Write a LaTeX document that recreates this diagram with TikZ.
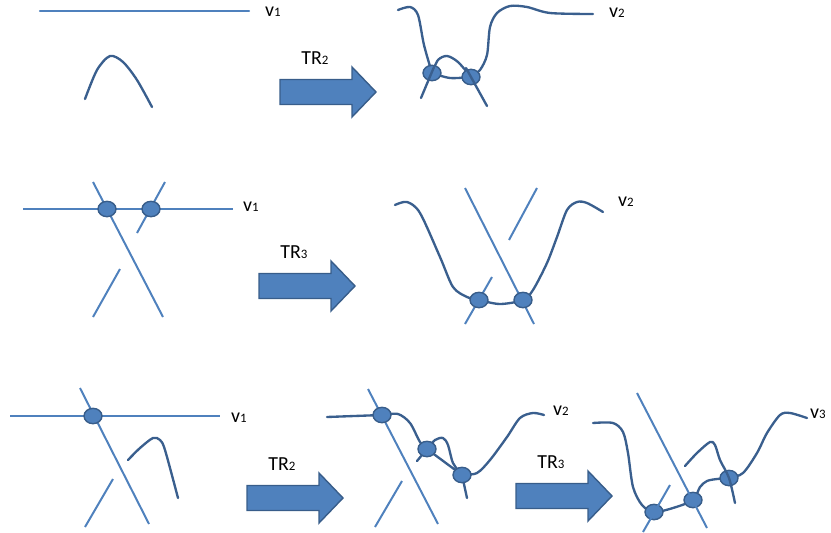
\documentclass[tikz,border=0pt]{standalone}
\usepackage{fontspec}
\setmainfont{Carlito}
\usepackage{tikz}
\usetikzlibrary{shapes,backgrounds}
\definecolor{lineblue}{RGB}{79,129,189}
\definecolor{curveblue}{RGB}{58,95,142}
\definecolor{dotline}{RGB}{56,93,138}
\newcommand{\idx}[1]{{\fontsize{11}{11}\selectfont #1}}
\tikzstyle{strand}    = [draw=lineblue, line width=1.7pt]
\tikzstyle{curve}     = [draw=curveblue, line width=2pt, line cap=round, line join=round]
\tikzstyle{crossing}  = [ellipse, draw=dotline, fill=lineblue, line width=1.2pt, minimum width=0.54cm, minimum height=0.46cm, inner sep=0pt]
\tikzstyle{bigarrow}  = [draw=dotline, fill=lineblue, line width=1.2pt]
\tikzstyle{lbl}       = [font=\fontsize{17}{20}\selectfont, inner sep=0pt]

\begin{document}
\begin{tikzpicture}[x=0.03cm, y=-0.03cm]
		\useasboundingbox (0,0) rectangle (831,533);

		% block arrows with their moves
		\foreach \x/\y/\n [count=\i] in {280/92/2, 259/286/3, 247/498/2, 516/496/3} {
			\draw[bigarrow] (\x,\y-12.5) -- (\x+72,\y-12.5) -- (\x+72,\y-25) -- (\x+96,\y) -- (\x+72,\y+25) -- (\x+72,\y+12.5) -- (\x,\y+12.5) -- cycle;
			\node[lbl] (tr\i) at (\x+35,\y-34) {TR\idx{\n}};
		}

		% top row
		\draw[curve, draw=lineblue] (40,11) -- (249,11);
		\node[lbl] (v1a) at (273,12) {v\idx{1}};
		\draw[curve] plot[smooth] coordinates {(85,99) (97,70) (110,56) (123,62) (137,80) (152,107)};

		\node[crossing] (ta) at (432,73) {};
		\node[crossing] (tb) at (471,77) {};
		\begin{scope}[on background layer]
			\draw[curve] plot[smooth] coordinates {(398,10) (410,7) (418,15) (424,45) (ta.center)};
			\draw[curve] plot[smooth] coordinates {(ta.center) (438,60) (447,56) (458,62) (tb.center)};
			\draw[curve] plot[smooth] coordinates {(ta.center) (450,78) (tb.center)};
			\draw[curve] plot[smooth] coordinates {(tb.center) (480,70) (487,55) (490,27) (497,13) (510,6) (527,7) (550,13) (593,14)};
		\end{scope}
		\draw[curve] (434,67) -- (421,98);
		\draw[curve] (466,68) -- (487,106);
		\node[lbl] (v2a) at (617,13) {v\idx{2}};

		% middle row
		\node[crossing] (ma) at (107,209) {};
		\node[crossing] (mb) at (151,209) {};
		\begin{scope}[on background layer]
			\draw[strand] (23,209) -- (233,209);
			\draw[strand] (93,182) -- (163,317);
			\draw[strand] (165,182) -- (137,233);
		\end{scope}
		\draw[strand] (120,269) -- (93,317);
		\node[lbl] (v1b) at (251,207) {v\idx{1}};

		\node[crossing] (mc) at (479,300) {};
		\node[crossing] (md) at (523,300) {};
		\begin{scope}[on background layer]
			\draw[strand] (465,188) -- (534,324);
			\draw[strand] (492,277) -- (465,324);
			\draw[curve] plot[smooth] coordinates {(395,205) (407,202) (420,213) (440,257) (453,287) (467,297) (mc.center) (500,304) (md.center) (533,290) (547,263) (557,237) (567,210) (577,202) (587,203) (603,212)};
		\end{scope}
		\draw[strand] (537,188) -- (509,240);
		\node[lbl] (v2b) at (626,202) {v\idx{2}};

		% bottom row
		\node[crossing] (ba) at (93,416) {};
		\begin{scope}[on background layer]
			\draw[strand] (10,416) -- (220,416);
			\draw[strand] (80,388) -- (149,524);
		\end{scope}
		\draw[strand] (113,479) -- (85,527);
		\draw[curve] plot[smooth] coordinates {(128,460) (140,448) (153,438) (160,440) (165,450) (178,498)};
		\node[lbl] (v1c) at (239,418) {v\idx{1}};

		\node[crossing] (bb) at (382,415) {};
		\node[crossing] (bc) at (427,449) {};
		\node[crossing] (bd) at (462,475) {};
		\begin{scope}[on background layer]
			\draw[strand] (368,389) -- (438,524);
			\draw[curve] (327,417) -- (bb.center);
			\draw[curve] plot[smooth] coordinates {(bb.center) (398,414) (410,423) (420,442) (bc.center)};
			\draw[curve] plot[smooth] coordinates {(bc.center) (435,440) (443,438) (448,445) (453,463) (bd.center)};
			\draw[curve] (bc.center) -- (bd.center);
			\draw[curve] plot[smooth] coordinates {(bd.center) (477,473) (490,460) (507,437) (520,418) (533,413) (544,415)};
			\draw[curve] (bc.center) -- (417,461);
			\draw[curve] (bd.center) -- (467,498);
		\end{scope}
		\draw[strand] (402,481) -- (375,527);
		\node[lbl] (v2c) at (561,411) {v\idx{2}};

		\node[crossing] (be) at (654,512) {};
		\node[crossing] (bf) at (693,500) {};
		\node[crossing] (bg) at (729,478) {};
		\begin{scope}[on background layer]
			\draw[curve] plot[smooth] coordinates {(593,423) (613,423) (623,432) (628,453) (633,487) (642,505) (be.center) (673,508) (bf.center) (700,487) (707,481) (717,479) (bg.center) (743,473) (757,453) (767,433) (780,415) (790,413) (807,418)};
		\end{scope}
		\draw[strand] (637,393) -- (707,528);
		\draw[strand] (670,485) -- (643,532);
		\draw[curve] plot[smooth] coordinates {(685,466) (697,453) (710,442) (715,445) (720,460) (729,478) (735,503)};
		\node[lbl, anchor=west] (v3c) at (810,414) {v\idx{3}};
	\end{tikzpicture}
\end{document}
